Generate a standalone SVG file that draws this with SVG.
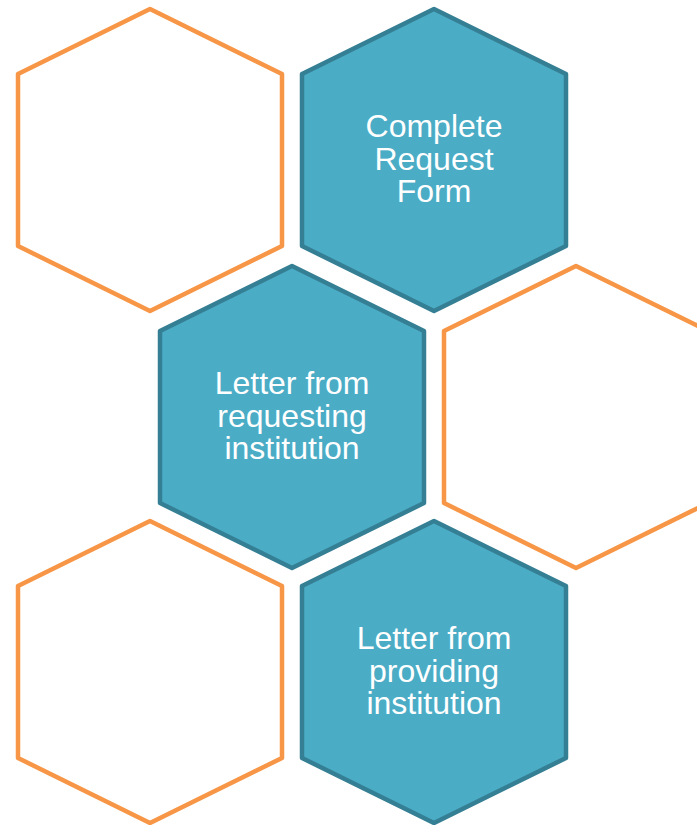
<svg xmlns="http://www.w3.org/2000/svg" width="697" height="825" viewBox="0 0 697 825">
<defs>
<style>
.o{fill:#FFFFFF;stroke:#F79646;stroke-width:4.5;stroke-linejoin:round}
.t{fill:#4BACC6;stroke:#357F94;stroke-width:4.5;stroke-linejoin:round}
.l{font-family:"Liberation Sans",Arial,sans-serif;font-size:32px;fill:#FFFFFF;text-anchor:middle}
</style>
</defs>
<rect width="697" height="825" fill="#FFFFFF"/>
<g id="hex-empty-1"><polygon class="o" points="150,9 282,74 282,246 150,311 18,246 18,74"/></g>
<g id="hex-complete-request-form"><polygon class="t" points="434,9 566,74 566,246 434,311 302,246 302,74"/>
<text class="l"><tspan x="434" y="137">Complete</tspan><tspan x="434" y="170">Request</tspan><tspan x="434" y="202">Form</tspan></text></g>
<g id="hex-letter-requesting"><polygon class="t" points="292,266 424,331 424,503 292,568 160,503 160,331"/>
<text class="l"><tspan x="292" y="394">Letter from</tspan><tspan x="292" y="427">requesting</tspan><tspan x="292" y="459">institution</tspan></text></g>
<g id="hex-empty-2"><polygon class="o" points="576,266 708,331 708,503 576,568 444,503 444,331"/></g>
<g id="hex-empty-3"><polygon class="o" points="150,521 282,586 282,758 150,823 18,758 18,586"/></g>
<g id="hex-letter-providing"><polygon class="t" points="434,521 566,586 566,758 434,823 302,758 302,586"/>
<text class="l"><tspan x="434" y="649">Letter from</tspan><tspan x="434" y="682">providing</tspan><tspan x="434" y="714">institution</tspan></text></g>
<g id="connectors"/>
</svg>
